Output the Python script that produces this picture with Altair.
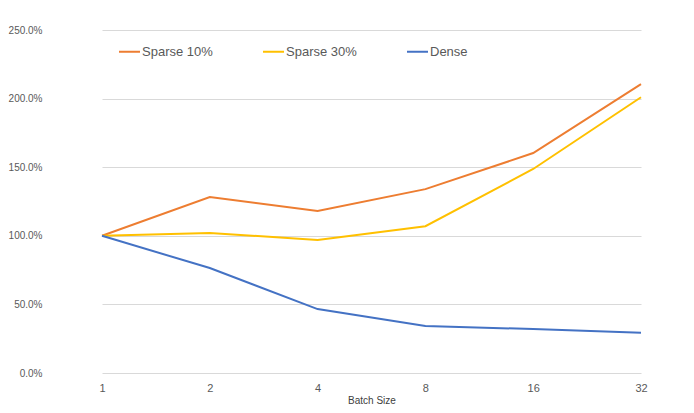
import altair as alt
import pandas as pd

batch_sizes = ["1", "2", "4", "8", "16", "32"]
series_names = ["Sparse 10%", "Sparse 30%", "Dense"]
sparse10 = [1.00, 1.283, 1.18, 1.34, 1.603, 2.106]
sparse30 = [1.00, 1.02, 0.97, 1.07, 1.487, 2.01]
dense = [1.00, 0.765, 0.466, 0.343, 0.32, 0.294]
colors = ["#ED7D31", "#FFC000", "#4472C4"]
y_ticks = [0, 0.5, 1.0, 1.5, 2.0, 2.5]

rows = []
for name, vals in zip(series_names, [sparse10, sparse30, dense]):
    for b, v in zip(batch_sizes, vals):
        rows.append({"Batch Size": b, "value": v, "series": name})
df = pd.DataFrame(rows)

font = "Liberation Sans"

chart = alt.Chart(df).mark_line(strokeWidth=2).encode(
    x=alt.X("Batch Size:N", sort=batch_sizes,
            scale=alt.Scale(type="point", range=[54, 593], padding=0),
            axis=alt.Axis(labelAngle=0, ticks=False, domain=False,
                          labelColor="#595959", labelFontSize=11, labelPadding=9,
                          titleFontSize=10, titleColor="#404040", titleFontWeight="normal",
                          titlePadding=2, grid=False, labelFont=font, titleFont=font)),
    y=alt.Y("value:Q", scale=alt.Scale(domain=[0, 2.5], nice=False),
            axis=alt.Axis(values=y_ticks, format=".1%", title=None, domain=False, ticks=False,
                          gridColor="#d9d9d9", labelColor="#595959", labelFontSize=10,
                          labelPadding=6, labelFont=font)),
    color=alt.Color("series:N", scale=alt.Scale(domain=series_names, range=colors),
                    legend=alt.Legend(title=None, orient="none", legendX=70, legendY=10,
                                      direction="horizontal", columns=3, gridAlign="all",
                                      symbolType="stroke", symbolSize=441, symbolStrokeWidth=2,
                                      symbolOffset=0, labelOffset=1, columnPadding=46,
                                      labelFontSize=13, labelColor="#595959", labelFont=font)),
).properties(
    width=638, height=343,
    autosize=alt.AutoSizeParams(type="none"),
    padding={"left": 40, "top": 22, "right": 0, "bottom": 32},
).configure_view(stroke=None)

chart.save("out.html", embed_options={"renderer": "svg", "actions": False})
